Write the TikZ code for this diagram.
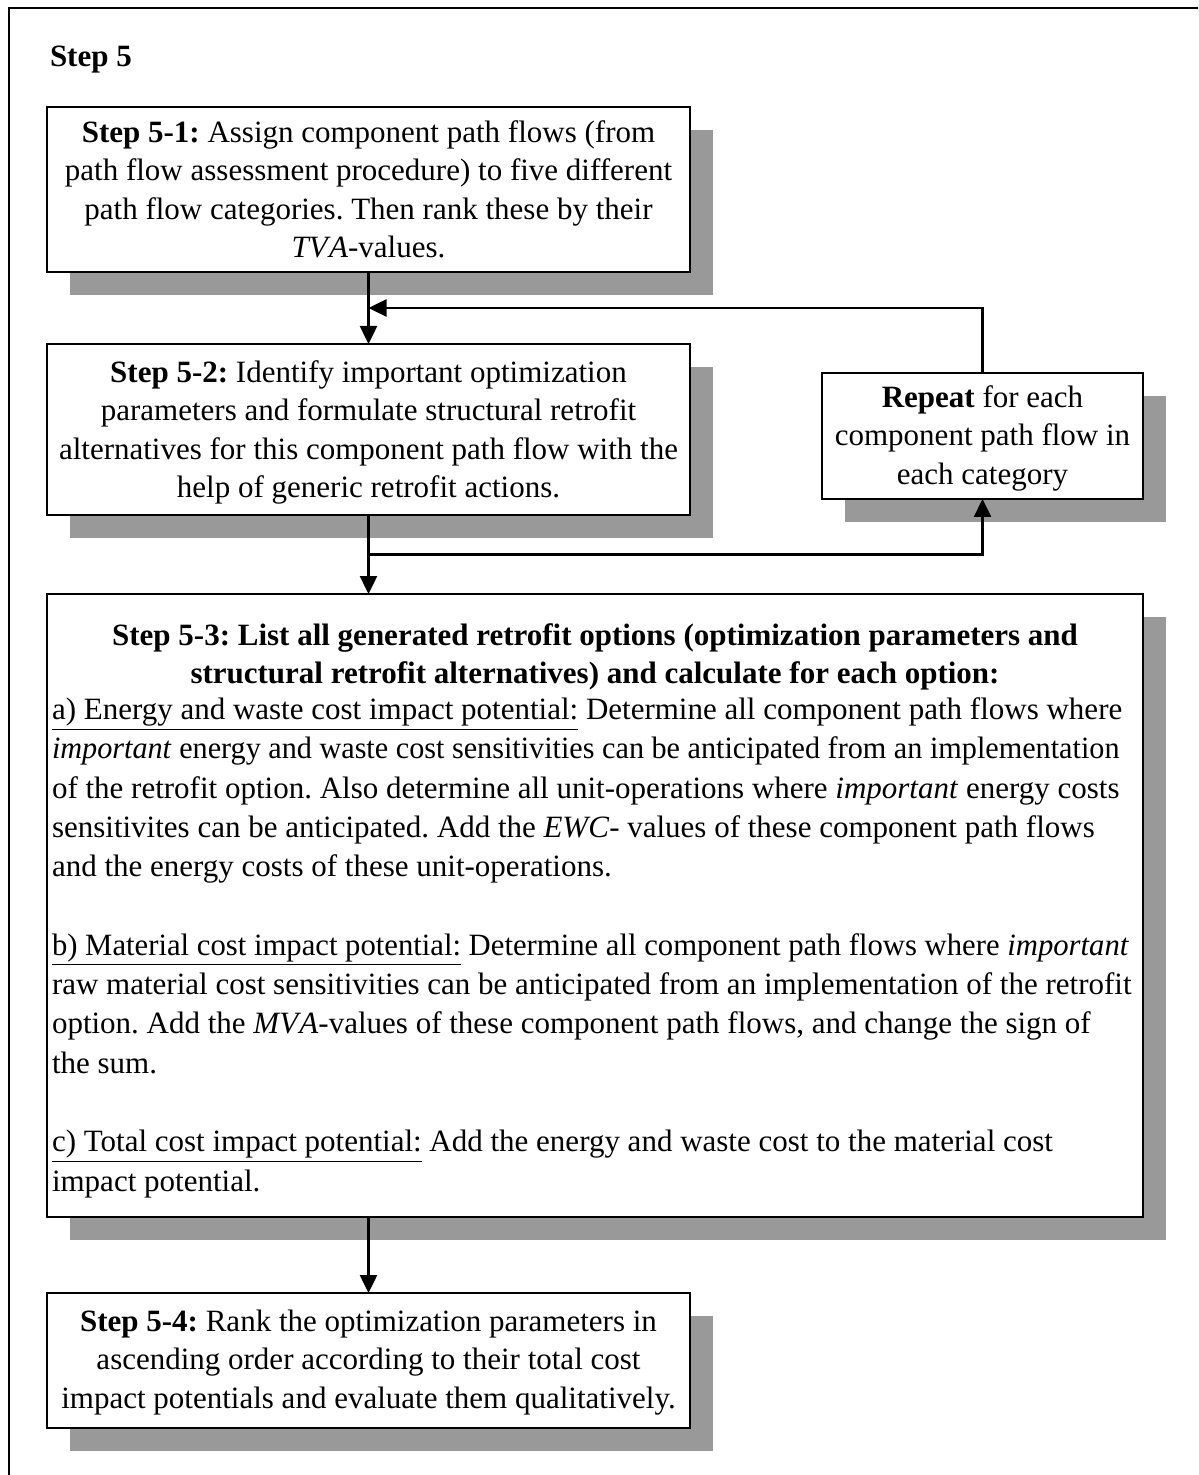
\documentclass[tikz,border=0pt]{standalone}
\usepackage{fontspec}
\usepackage{graphicx}
\setmainfont{Liberation Serif}
\usetikzlibrary{arrows.meta,shadows,calc}
\definecolor{shadowgray}{RGB}{153,153,153}
\frenchspacing

\begin{document}
\begin{tikzpicture}[x=0.5pt,y=-0.5pt,
  every node/.style={inner sep=0pt, outer sep=0pt},
  bodyfont/.style={font=\fontsize{15.5}{19.3}\selectfont},
  widefont/.style={font=\fontsize{15.5}{19.65}\selectfont},
  titlefont/.style={font=\fontsize{15.5}{19.3}\selectfont\bfseries},
  stepbox/.style={draw=black, line width=1pt, fill=white,
    drop shadow={shadow xshift=11.5pt, shadow yshift=-11.5pt,
                 fill=shadowgray, opacity=1}},
  steptext/.style={bodyfont, align=center, anchor=north},
  arr/.style={line width=1.25pt, -{Triangle[length=9pt,width=8.5pt]}},
  frame/.style={line width=1.25pt}
]
\useasboundingbox (0,0) rectangle (1198,1475);
\clip (0,0) rectangle (1198,1475);

% surrounding frame (runs off the page on the right and at the bottom)
\draw[frame] (9,1490) -- (9,8) -- (1210,8);

\node[titlefont, anchor=base west] (title) at (50,67) {Step 5};

% boxes
\node[stepbox, minimum width=321.5pt, minimum height=82.5pt] (b51) at (368.5,189.5) {};
\node[stepbox, minimum width=321.5pt, minimum height=85.5pt] (b52) at (368.5,429.5) {};
\node[stepbox, minimum width=160.5pt, minimum height=63pt]   (rep) at (982.5,436) {};
\node[stepbox, minimum width=548pt,   minimum height=311.5pt] (b53) at (595,905.5) {};
\node[stepbox, minimum width=321.5pt, minimum height=67.5pt] (b54) at (368.5,1360.5) {};

% box texts
\node[steptext] (t51) at (368.5,115) {\strut\textbf{Step 5-1:} Assign component path flows (from\\
  path flow assessment procedure) to five different\\
  path flow categories. Then rank these by their\\
  \textit{TV\kern0.6pt A}-values.};

\node[steptext] (t52) at (368.5,355) {\strut\textbf{Step 5-2:} Identify important optimization\\
  parameters and formulate structural retrofit\\
  alternatives for this component path flow with the\\
  help of generic retrofit actions.};

\node[steptext] (trep) at (982.5,380) {\strut\textbf{Repeat} for each\\
  component path flow in\\
  each category};

\node[steptext, font=\fontsize{15.5}{19.3}\selectfont\bfseries] (t53h) at (595,618)
  {\strut Step 5-3: List all generated retrofit options (optimization parameters and\\
  structural retrofit alternatives) and calculate for each option:};

\node[widefont, align=left, anchor=north west] (t53b) at (52,692)
  {\strut\underline{a) Energy and waste cost impact potential:} Determine all component path flows where\\
  \scalebox{0.974}[1]{\textit{important} energy and waste cost sensitivities can be anticipated from an implementation}\\
  of the retrofit option. Also determine all unit-operations where \textit{important} energy costs\\
  sensitivites can be anticipated. Add the \textit{EWC}- values of these component path flows\\
  and the energy costs of these unit-operations.\\
  \strut\\
  \scalebox{0.99}[1]{\underline{b) Material cost impact potential:} Determine all component path flows where \textit{important}}\\
  raw material cost sensitivities can be anticipated from an implementation of the retrofit\\
  option. Add the \textit{MV\kern0.6pt A}-values of these component path flows, and change the sign of\\
  the sum.\\
  \strut\\
  \underline{c) Total cost impact potential:} Add the energy and waste cost to the material cost\\
  impact potential.};

\node[steptext] (t54) at (368.5,1304) {\strut\textbf{Step 5-4:} Rank the optimization parameters in\\
  ascending order according to their total cost\\
  impact potentials and evaluate them qualitatively.};

% connectors
\coordinate (in53) at (b52.south |- b53.north);
\coordinate (out53) at (b54.north |- b53.south);
\coordinate (back) at ($(b51.south)!0.5!(b52.north)$);
\coordinate (loop) at ($(b52.south)!0.5!(in53)$);

\draw[arr] (b51.south) -- (b52.north);
\draw[arr] (b52.south) -- (in53);
\draw[arr] (out53) -- (b54.north);
\draw[arr] (rep.north) |- (back);
\draw[arr] (loop) -| (rep.south);
\end{tikzpicture}
\end{document}
